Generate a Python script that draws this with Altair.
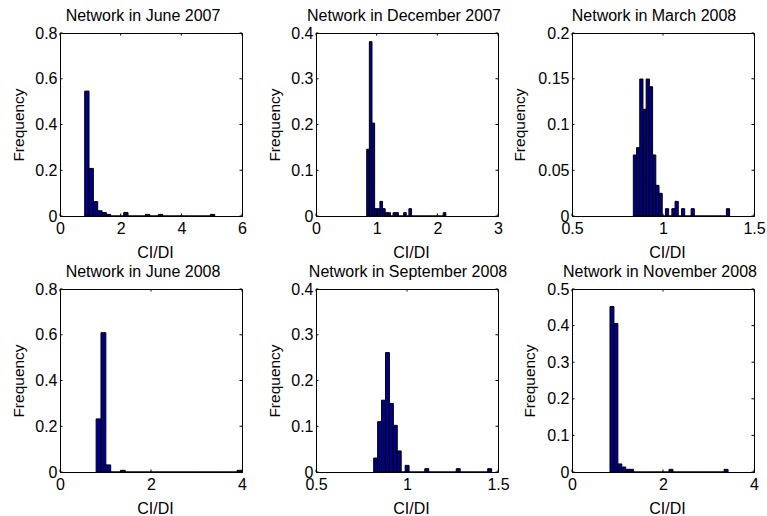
import altair as alt
import pandas as pd

FONT = "Liberation Sans"
FS = 16
W, H = 182, 183
TICK = 2.5
FILL = "#00008a"

TITLES = [
    "Network in June 2007",
    "Network in December 2007",
    "Network in March 2008",
    "Network in June 2008",
    "Network in September 2008",
    "Network in November 2008",
]

# Each histogram: [lower edge of first bin, upper edge of last bin] and the 30 bin frequencies
JUN07_RANGE = [0.814, 5.10]
JUN07_FREQ = [0.546, 0.208, 0.063, 0.023, 0.015, 0.007, 0, 0, 0, 0.015,
              0, 0, 0, 0, 0.007, 0, 0, 0.007, 0, 0,
              0, 0, 0, 0, 0, 0, 0, 0, 0, 0.007]

DEC07_RANGE = [0.836, 2.14]
DEC07_FREQ = [0.146, 0.381, 0.203, 0.016, 0.016, 0.032, 0.016, 0.0073, 0.0073, 0,
              0.0073, 0.0073, 0, 0, 0.0073, 0, 0.016, 0, 0, 0,
              0, 0, 0, 0, 0, 0, 0, 0, 0, 0.0073]

MAR08_RANGE = [0.837, 1.366]
MAR08_FREQ = [0.0667, 0.0747, 0.1497, 0.1166, 0.1497, 0.1413, 0.0667, 0.0335, 0.0248, 0,
              0.008, 0, 0.008, 0.016, 0, 0.008, 0, 0, 0.008, 0,
              0, 0, 0, 0, 0, 0, 0, 0, 0, 0.008]

JUN08_RANGE = [0.794, 4.0]
JUN08_FREQ = [0.232, 0.609, 0.031, 0, 0, 0.0073, 0, 0, 0, 0,
              0, 0, 0, 0, 0, 0, 0, 0, 0, 0,
              0, 0, 0, 0, 0, 0, 0, 0, 0, 0.0073]

SEP08_RANGE = [0.817, 1.465]
SEP08_FREQ = [0.0305, 0.110, 0.157, 0.261, 0.150, 0.102, 0.046, 0, 0.0145, 0,
              0, 0, 0, 0.0073, 0, 0, 0, 0, 0, 0,
              0, 0.0073, 0, 0, 0, 0, 0, 0, 0, 0.0073]

NOV08_RANGE = [0.835, 3.43]
NOV08_FREQ = [0.452, 0.406, 0.022, 0.0136, 0.0073, 0.0073, 0, 0, 0, 0,
              0, 0, 0, 0, 0, 0.0073, 0, 0, 0, 0,
              0, 0, 0, 0, 0, 0, 0, 0, 0, 0.0073]

RANGES = [JUN07_RANGE, DEC07_RANGE, MAR08_RANGE, JUN08_RANGE, SEP08_RANGE, NOV08_RANGE]
FREQS = [JUN07_FREQ, DEC07_FREQ, MAR08_FREQ, JUN08_FREQ, SEP08_FREQ, NOV08_FREQ]

X_DOMAINS = [[0, 6], [0, 3], [0.5, 1.5], [0, 4], [0.5, 1.5], [0, 4]]
X_TICKS = [[0, 2, 4, 6], [0, 1, 2, 3], [0.5, 1, 1.5], [0, 2, 4], [0.5, 1, 1.5], [0, 2, 4]]
Y_DOMAINS = [[0, 0.8], [0, 0.4], [0, 0.2], [0, 0.8], [0, 0.4], [0, 0.5]]
Y_TICKS = [
    [0, 0.2, 0.4, 0.6, 0.8],
    [0, 0.1, 0.2, 0.3, 0.4],
    [0, 0.05, 0.1, 0.15, 0.2],
    [0, 0.2, 0.4, 0.6, 0.8],
    [0, 0.1, 0.2, 0.3, 0.4],
    [0, 0.1, 0.2, 0.3, 0.4, 0.5],
]
TITLE_DX = [-8, -3, -9, -8, 1, -3]
YTITLE_X = [-42, -42, -53, -42, -42, -43]

LEFT, TOP = 60, 33
PAGE_W, PAGE_H = 767, 516


def panel(i):
    lo, hi = RANGES[i]
    freq = FREQS[i]
    n = len(freq)
    step = (hi - lo) / n
    df = pd.DataFrame({
        "lo": [lo + k * step for k in range(n)],
        "hi": [lo + (k + 1) * step for k in range(n)],
        "freq": freq,
    })
    xs = alt.Scale(domain=X_DOMAINS[i], nice=False, zero=False)
    ys = alt.Scale(domain=Y_DOMAINS[i], nice=False, zero=True)
    x_axis = alt.Axis(
        values=X_TICKS[i], format="~g", title="CI/DI", labelFlush=False,
        labelPadding=4, titleX=W / 2 + 4, titleY=41, titleAlign="center",
        titleBaseline="alphabetic")
    y_axis = alt.Axis(
        values=Y_TICKS[i], format="~g", title="Frequency", labelFlush=False,
        labelPadding=3, titleX=YTITLE_X[i], titleY=H / 2, titleAngle=270,
        titleAlign="center", titleBaseline="middle", titleFontSize=15.5)

    bars = alt.Chart(df).mark_bar(fill=FILL, stroke="black", strokeWidth=1).encode(
        x=alt.X("lo:Q", scale=xs, axis=x_axis),
        x2="hi:Q",
        y=alt.Y("freq:Q", scale=ys, axis=y_axis),
        y2=alt.datum(0),
    )

    xt = pd.DataFrame({"t": X_TICKS[i]})
    yt = pd.DataFrame({"t": Y_TICKS[i]})
    tick_x = alt.X("t:Q", scale=xs, axis=x_axis)
    tick_y = alt.Y("t:Q", scale=ys, axis=y_axis)
    bottom = alt.Chart(xt).mark_rule(color="black").encode(
        x=tick_x, y=alt.value(H), y2=alt.value(H - TICK))
    top = alt.Chart(xt).mark_rule(color="black").encode(
        x=tick_x, y=alt.value(0), y2=alt.value(TICK))
    left = alt.Chart(yt).mark_rule(color="black").encode(
        y=tick_y, x=alt.value(0), x2=alt.value(TICK))
    right = alt.Chart(yt).mark_rule(color="black").encode(
        y=tick_y, x=alt.value(W), x2=alt.value(W - TICK))

    # panel heading, drawn as text just above the plot frame
    heading = alt.Chart(pd.DataFrame({"label": [TITLES[i]]})).mark_text(
        font=FONT, fontSize=FS, color="black", align="center", baseline="alphabetic",
    ).encode(text="label:N", x=alt.value(W / 2 + TITLE_DX[i]), y=alt.value(-12))

    return alt.layer(bars, bottom, top, left, right, heading).properties(width=W, height=H)


chart = alt.concat(
    *[panel(i) for i in range(6)], columns=3,
    spacing={"row": 73, "column": 74}, bounds="flush",
).properties(
    autosize=alt.AutoSizeParams(type="none"),
    padding={"left": LEFT, "top": TOP, "right": PAGE_W - LEFT, "bottom": PAGE_H - TOP},
    background="white",
).configure_axis(
    labelFont=FONT, labelFontSize=FS, labelColor="black",
    titleFont=FONT, titleFontSize=FS, titleFontWeight="normal", titleColor="black",
    domainColor="black", domainWidth=1, ticks=False, tickSize=0, grid=False,
).configure_view(
    stroke="black", strokeWidth=1,
)

chart.save("out.html", embed_options={"renderer": "svg", "actions": False})
